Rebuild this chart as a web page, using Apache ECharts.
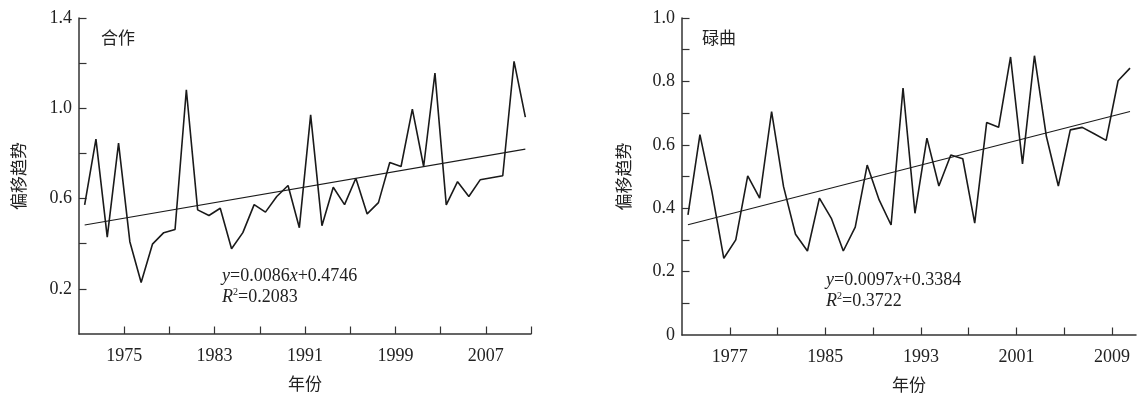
<!DOCTYPE html>
<html><head><meta charset="utf-8">
<script src="https://cdn.jsdelivr.net/npm/echarts@6/dist/echarts.min.js"></script>
<style>html,body{margin:0;padding:0;background:#fff}#c{width:1138px;height:394px}</style>
</head><body><div id="c"></div>
<script>
// ---- Left panel: 合作 ----
const leftYears = [1971,1972,1973,1974,1975,1976,1977,1978,1979,1980,1981,1982,1983,1984,1985,1986,1987,1988,1989,1990,1991,1992,1993,1994,1995,1996,1997,1998,1999,2000,2001,2002,2003,2004,2005,2006,2007,2008,2009,2010];
const leftValues = [0.572,0.863,0.429,0.846,0.409,0.228,0.398,0.449,0.463,1.082,0.550,0.525,0.557,0.378,0.449,0.573,0.540,0.609,0.658,0.471,0.971,0.480,0.650,0.573,0.690,0.532,0.582,0.760,0.742,0.996,0.742,1.156,0.572,0.675,0.609,0.683,0.692,0.701,1.208,0.961];
const leftTrend = [0.483, 0.819];
const leftXTicks = [1975,1979,1983,1987,1991,1995,1999,2003,2007,2011];
const leftXLabels = [1975,1983,1991,1999,2007];
const leftYTicks = [0.2,0.4,0.6,0.8,1.0,1.2,1.4];
const leftYLabels = [0.2,0.6,1.0,1.4];

// ---- Right panel: 碌曲 ----
const rightYears = [1973,1974,1975,1976,1977,1978,1979,1980,1981,1982,1983,1984,1985,1986,1987,1988,1989,1990,1991,1992,1993,1994,1995,1996,1997,1998,1999,2000,2001,2002,2003,2004,2005,2006,2007,2008,2009,2010];
const rightValues = [0.379,0.632,0.453,0.242,0.300,0.502,0.432,0.705,0.468,0.318,0.265,0.432,0.368,0.265,0.340,0.536,0.426,0.347,0.779,0.384,0.621,0.470,0.568,0.556,0.353,0.670,0.655,0.877,0.540,0.881,0.626,0.470,0.647,0.655,0.635,0.614,0.802,0.842];
const rightTrend = [0.348, 0.705];
const rightXTicks = [1977,1981,1985,1989,1993,1997,2001,2005,2009];
const rightXLabels = [1977,1985,1993,2001,2009];
const rightYTicks = [0.1,0.2,0.3,0.4,0.5,0.6,0.7,0.8,0.9,1.0];
const rightYLabels = [0,0.2,0.4,0.6,0.8,1.0];

const SERIF = '"Liberation Serif","DejaVu Serif",serif';
const CJK = '"Noto Sans CJK SC","Noto Sans",sans-serif';
const INK = '#222';
const AXIS = '#333';

function lineStyleAxis(){ return {show:true, lineStyle:{color:AXIS, width:1.5}}; }
function tickStyle(vals){ return {show:true, inside:true, length:7.5, lineStyle:{color:AXIS, width:1.2}, customValues: vals}; }

function catAxis(grid, years){
  return {type:'category', gridIndex:grid, data:years, boundaryGap:true, show:false, position:'top'};
}
function valXAxis(grid, min, max, ticks, labels){
  return {type:'value', gridIndex:grid, min:min, max:max, position:'bottom',
    axisLine:lineStyleAxis(), axisTick:tickStyle(ticks), splitLine:{show:false},
    axisLabel:{customValues:labels, margin:13, fontFamily:SERIF, fontSize:18, color:INK, formatter:v=>String(v)},
    name:'年份', nameLocation:'middle', nameGap:41, nameTextStyle:{fontFamily:CJK, fontSize:17, color:INK}};
}
function valYAxis(grid, max, ticks, labels, gap){
  return {type:'value', gridIndex:grid, min:0, max:max,
    axisLine:lineStyleAxis(), axisTick:tickStyle(ticks), splitLine:{show:false},
    axisLabel:{customValues:labels, margin:7, fontFamily:SERIF, fontSize:18, color:INK, formatter:v=> v===0 ? '0' : v.toFixed(1)},
    name:'偏移趋势', nameLocation:'middle', nameRotate:90, nameGap:gap, nameTextStyle:{fontFamily:CJK, fontSize:17, color:INK}};
}
const eqRich = {
  i:{fontFamily:SERIF, fontStyle:'italic', fontWeight:'normal', fontSize:18, color:INK, lineHeight:21},
  n:{fontFamily:SERIF, fontWeight:'normal', fontSize:18, color:INK, lineHeight:21},
  s:{fontFamily:SERIF, fontWeight:'normal', fontSize:10, color:INK, verticalAlign:'top', lineHeight:19}
};

const option = {
  animation:false,
  backgroundColor:'#fff',
  title:[
    {text:'合作', left:101, top:29, padding:0, textStyle:{fontFamily:CJK, fontSize:17, fontWeight:'normal', color:INK}},
    {text:'碌曲', left:702, top:29, padding:0, textStyle:{fontFamily:CJK, fontSize:17, fontWeight:'normal', color:INK}},
    {text:'{i|y}{n|=0.0086}{i|x}{n|+0.4746}\n{i|R}{s|2}{n|=0.2083}', left:222, top:266, padding:0, textStyle:{fontWeight:'normal', rich:eqRich}},
    {text:'{i|y}{n|=0.0097}{i|x}{n|+0.3384}\n{i|R}{s|2}{n|=0.3722}', left:826, top:270, padding:0, textStyle:{fontWeight:'normal', rich:eqRich}}
  ],
  grid:[
    {left:79, top:18, width:452, height:316, outerBoundsMode:'none', containLabel:false},
    {left:682, top:18, width:454, height:317, outerBoundsMode:'none', containLabel:false}
  ],
  xAxis:[
    catAxis(0, leftYears),
    valXAxis(0, 1971, 2011, leftXTicks, leftXLabels),
    catAxis(1, rightYears),
    valXAxis(1, 1973, 2011, rightXTicks, rightXLabels)
  ],
  yAxis:[
    valYAxis(0, 1.4, leftYTicks, leftYLabels, 52),
    valYAxis(1, 1.0, rightYTicks, rightYLabels, 50)
  ],
  series:[
    {type:'line', xAxisIndex:0, yAxisIndex:0, data:leftValues, symbol:'none', lineStyle:{color:'#1a1a1a', width:1.6}, silent:true},
    {type:'line', xAxisIndex:0, yAxisIndex:0, data:[[0, leftTrend[0]],[leftYears.length-1, leftTrend[1]]], symbol:'none', lineStyle:{color:'#1a1a1a', width:1.1}, silent:true},
    {type:'line', xAxisIndex:2, yAxisIndex:1, data:rightValues, symbol:'none', lineStyle:{color:'#1a1a1a', width:1.6}, silent:true},
    {type:'line', xAxisIndex:2, yAxisIndex:1, data:[[0, rightTrend[0]],[rightYears.length-1, rightTrend[1]]], symbol:'none', lineStyle:{color:'#1a1a1a', width:1.1}, silent:true}
  ]
};
echarts.init(document.getElementById('c'), null, {renderer:'canvas'}).setOption(option);
</script>
</body></html>
